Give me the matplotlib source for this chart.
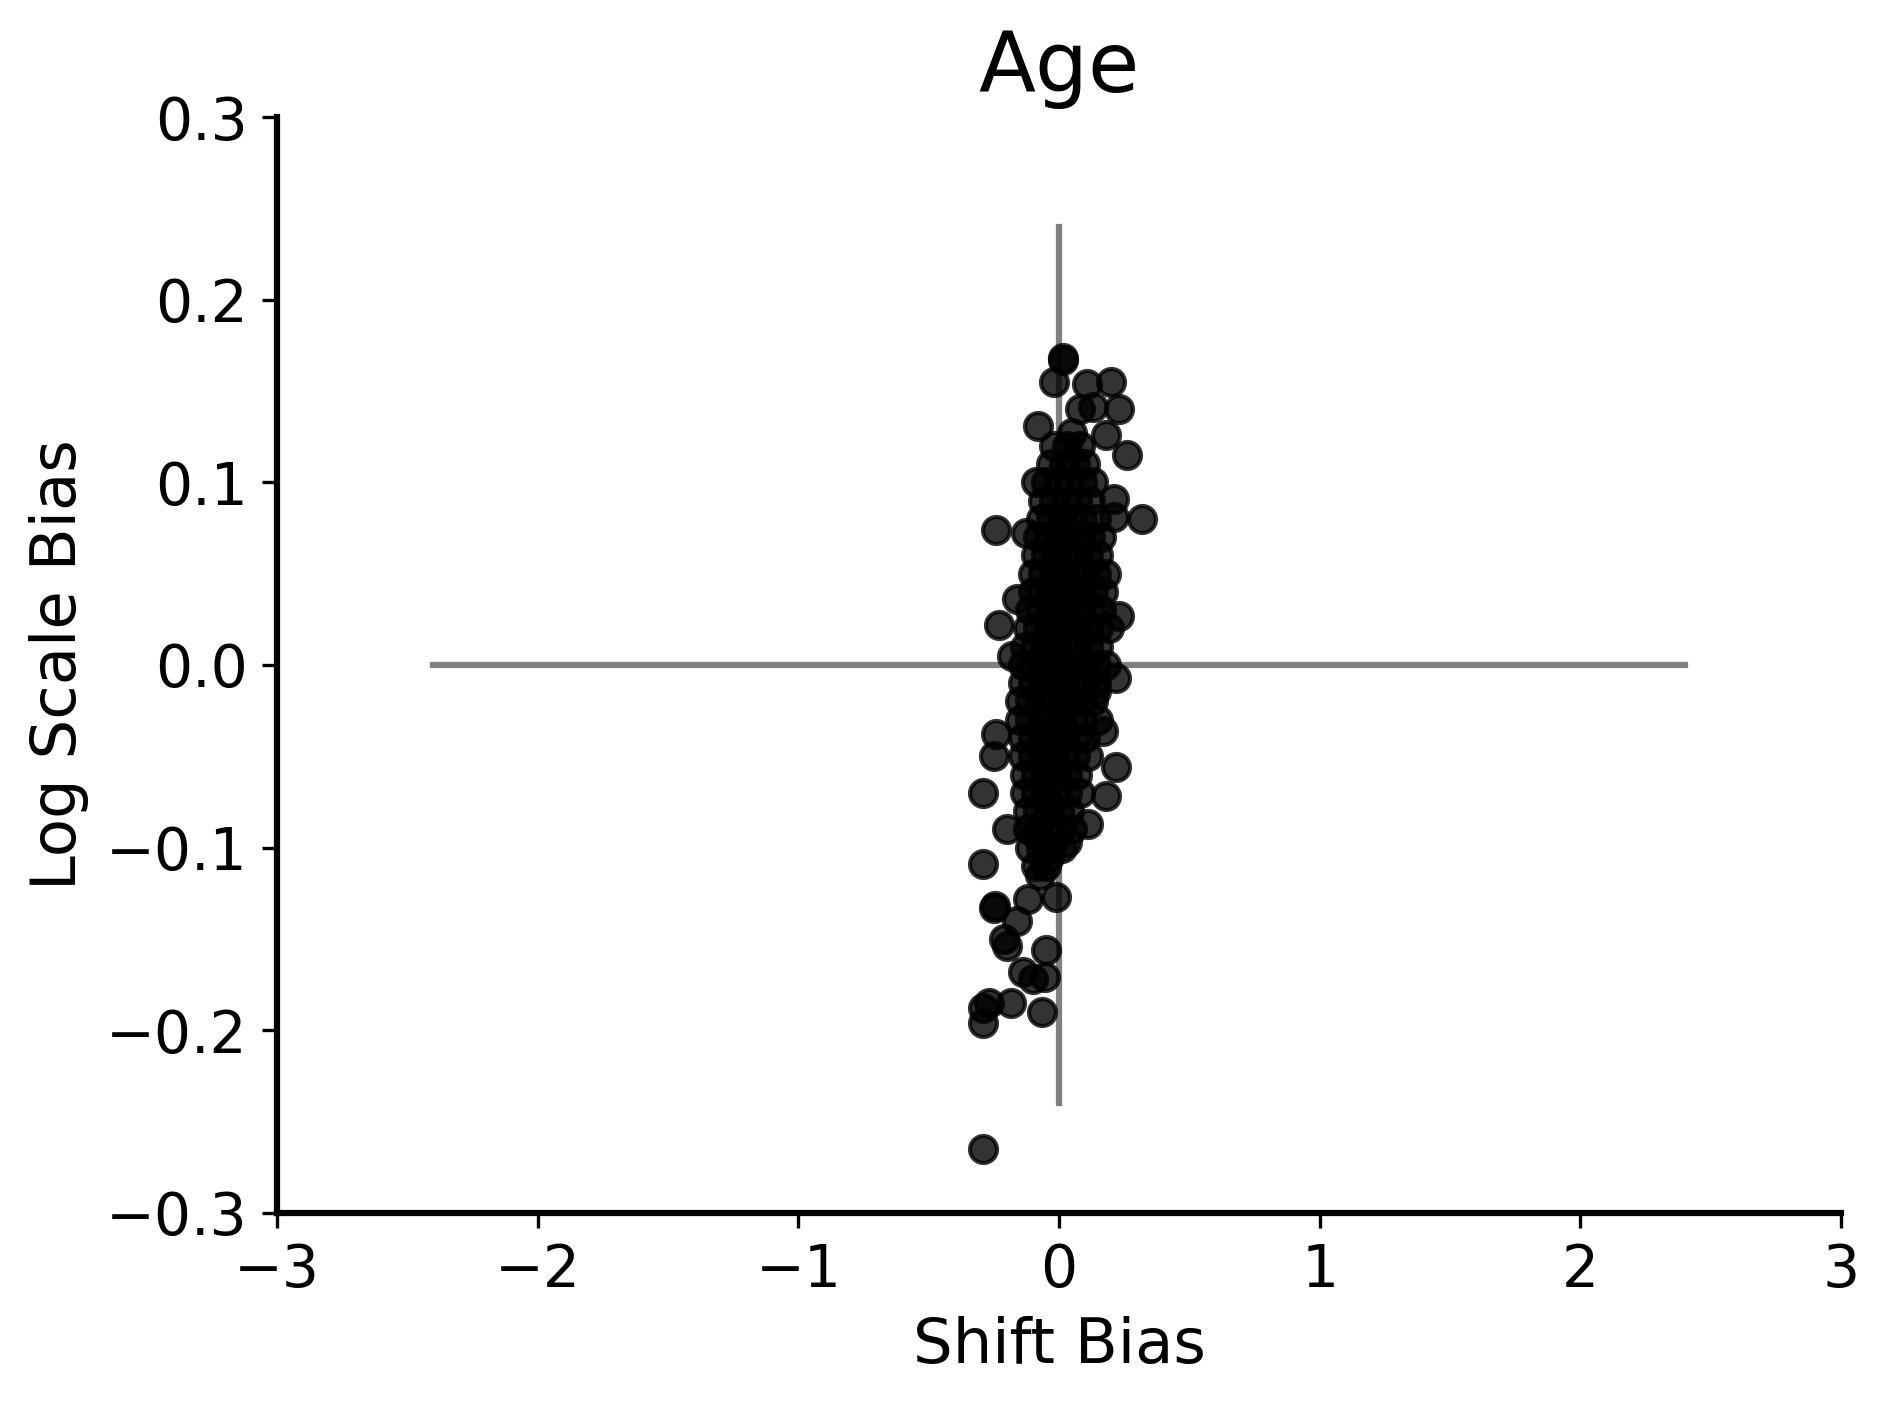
import matplotlib
matplotlib.use("Agg")
import matplotlib.pyplot as plt
import numpy as np

# points: outliers around the cluster
outlier_x = [0.014, -0.02, 0.106, 0.20, 0.08, 0.13, 0.23, -0.08, 0.05, 0.18,
             0.26, -0.09, 0.21, 0.32, -0.24, -0.125, 0.21, -0.16, -0.23, 0.23,
             0.22, -0.18, -0.24, -0.25, 0.22, 0.18, 0.11, -0.29, -0.20, -0.29,
             -0.25, -0.245, -0.01, -0.12, -0.16, -0.21, -0.20, -0.05, -0.14, -0.10,
             -0.055, -0.29, -0.27, -0.29, -0.185, -0.065, -0.29, -0.074, -0.09, -0.04,
             0.03, 0.17, 0.14, 0.015]
outlier_y = [0.168, 0.155, 0.154, 0.155, 0.14, 0.141, 0.14, 0.131, 0.127, 0.126,
             0.115, 0.10, 0.091, 0.08, 0.074, 0.072, 0.081, 0.036, 0.022, 0.027,
             -0.007, 0.005, -0.038, -0.05, -0.056, -0.072, -0.087, -0.07, -0.09, -0.109,
             -0.133, -0.132, -0.127, -0.128, -0.14, -0.15, -0.154, -0.156, -0.168, -0.172,
             -0.171, -0.188, -0.185, -0.196, -0.185, -0.19, -0.265, -0.115, -0.093, -0.105,
             -0.097, -0.036, -0.014, 0.167]

# dense core, row by row
core_rows = {
    0.12: [-0.02, 0.03, 0.08],
    0.11: [-0.03, 0.02, 0.06, 0.10],
    0.10: [-0.05, 0.00, 0.04, 0.09, 0.13],
    0.09: [-0.06, -0.02, 0.03, 0.07, 0.12],
    0.08: [-0.07, -0.03, 0.01, 0.05, 0.09, 0.14],
    0.07: [-0.08, -0.04, 0.00, 0.04, 0.08, 0.12, 0.16],
    0.06: [-0.09, -0.05, -0.01, 0.03, 0.07, 0.11, 0.15],
    0.05: [-0.10, -0.06, -0.02, 0.02, 0.06, 0.10, 0.14, 0.18],
    0.04: [-0.10, -0.06, -0.03, 0.01, 0.05, 0.09, 0.13, 0.17],
    0.03: [-0.11, -0.07, -0.03, 0.00, 0.04, 0.08, 0.12, 0.16],
    0.02: [-0.12, -0.08, -0.04, 0.00, 0.03, 0.07, 0.11, 0.15, 0.19],
    0.01: [-0.13, -0.09, -0.05, -0.01, 0.03, 0.07, 0.11, 0.15],
    0.00: [-0.14, -0.10, -0.06, -0.02, 0.02, 0.06, 0.10, 0.14, 0.18],
    -0.01: [-0.14, -0.10, -0.06, -0.02, 0.02, 0.06, 0.10, 0.14],
    -0.02: [-0.15, -0.11, -0.07, -0.03, 0.01, 0.05, 0.09, 0.13],
    -0.03: [-0.15, -0.11, -0.07, -0.03, 0.01, 0.05, 0.09, 0.15],
    -0.04: [-0.14, -0.10, -0.06, -0.02, 0.02, 0.06, 0.10],
    -0.05: [-0.14, -0.10, -0.06, -0.02, 0.02, 0.06, 0.11],
    -0.06: [-0.13, -0.09, -0.05, -0.01, 0.03, 0.07],
    -0.07: [-0.13, -0.09, -0.05, -0.01, 0.03, 0.08],
    -0.08: [-0.12, -0.08, -0.04, 0.00, 0.04],
    -0.09: [-0.12, -0.08, -0.04, 0.00, 0.05],
    -0.10: [-0.11, -0.07, -0.03, 0.01],
    -0.11: [-0.09, -0.05],
}

core_x = []
core_y = []
for yy, xs in core_rows.items():
    for xx in xs:
        core_x.append(xx)
        core_y.append(yy)

shift_bias = np.array(outlier_x + core_x)
log_scale_bias = np.array(outlier_y + core_y)

fig, ax = plt.subplots(figsize=(6.297, 4.69), dpi=300)

ax.plot([-2.4, 2.4], [0, 0], color="gray", lw=1.5, zorder=1)
ax.plot([0, 0], [-0.24, 0.24], color="gray", lw=1.5, zorder=1)
ax.scatter(shift_bias, log_scale_bias, s=42, color="black", alpha=0.8, zorder=2)

ax.set_xlim(-3, 3)
ax.set_ylim(-0.3, 0.3)
ax.set_xticks([-3, -2, -1, 0, 1, 2, 3])
ax.set_yticks([-0.3, -0.2, -0.1, 0.0, 0.1, 0.2, 0.3])
ax.spines["top"].set_visible(False)
ax.spines["right"].set_visible(False)
ax.spines["left"].set_linewidth(1.5)
ax.spines["bottom"].set_linewidth(1.5)
ax.tick_params(labelsize=14)
ax.set_xlabel("Shift Bias", fontsize=15)
ax.set_ylabel("Log Scale Bias", fontsize=15)
ax.set_title("Age", fontsize=20)

fig.subplots_adjust(left=0.1466, right=0.9746, top=0.9168, bottom=0.138)
fig.savefig("out.png", dpi=300)
